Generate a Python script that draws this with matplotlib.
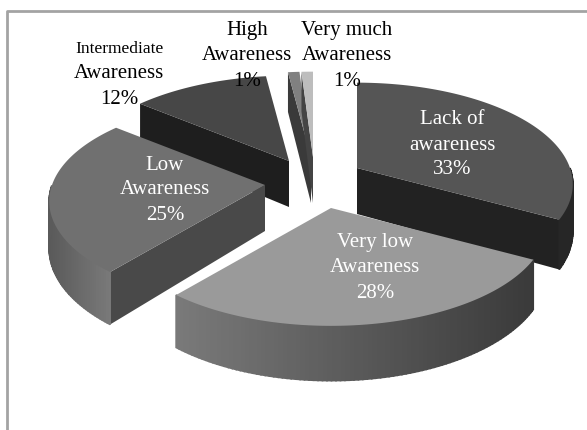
import numpy as np
import matplotlib
matplotlib.use("Agg")
import matplotlib.pyplot as plt
from matplotlib.colors import to_rgb

# awareness levels, clockwise from the top
labels = ["Lack of\nawareness", "Very low\nAwareness", "Low\nAwareness",
          "Intermediate\nAwareness", "High\nAwareness", "Very much\nAwareness"]
percents = [33, 28, 25, 12, 1, 1]

# apex of every exploded slice in pixels
apex_x = [357, 331, 265, 289, 311, 313]
apex_y = [168, 208, 185, 161, 157, 157]
top_cols = ["#555555", "#9a9a9a", "#707070", "#474747", "#808080", "#bdbdbd"]
wall_cols = ["#222222", "#444444", "#494949", "#1e1e1e", "#3a3a3a", "#444444"]
rim_left = ["#1e1e1e", "#7a7a7a", "#5a5a5a", "#333333", "#333333", "#333333"]
rim_right = ["#262626", "#3a3a3a", "#7c7c7c", "#333333", "#333333", "#333333"]

label_x = [452, 375, 165, 119, 247, 347]
label_y = [145, 268, 190, 74, 56, 56]
label_col = ["white", "white", "white", "black", "black", "black"]
draw_order = [3, 4, 5, 0, 2, 1]

fig = plt.figure(figsize=(5.87, 4.30), dpi=100)
ax = fig.add_axes([0, 0, 1, 1])
ax.set_xlim(0, 587)
ax.set_ylim(430, 0)
ax.axis("off")

# frame of the chart area
ax.plot([6.5, 6.5, 590], [432, 10.5, 10.5], color="#a3a3a3", lw=2)

P = 0.16
RX = 213
RY = 99
DEPTH = 46


def project(t):
    # t in degrees clockwise from the top, returns offset from apex
    a = np.radians(t)
    X = np.sin(a)
    Y = np.cos(a)
    s = 1 + P * Y
    return RX * X / s, -RY * Y / s, DEPTH / s


def mix(c1, c2, f):
    c1 = np.array(to_rgb(c1))
    c2 = np.array(to_rgb(c2))
    return c1 + (c2 - c1) * f


edges = np.concatenate([[0], np.cumsum(percents)]) * 3.6

for i in draw_order:
    t0, t1 = edges[i], edges[i + 1]
    cx, cy = apex_x[i], apex_y[i]
    ts = np.linspace(t0, t1, 100)
    rim = np.array([project(t) for t in ts])
    px = cx + rim[:, 0]
    py = cy + rim[:, 1]
    pd = rim[:, 2]

    # cut faces, only those turned towards the viewer
    mx, my = project((t0 + t1) / 2)[:2]
    for k in [0, -1]:
        ex, ey = px[k] - cx, py[k] - cy
        if abs(ex) > 1e-6 and my - ey / ex * mx < 0:
            ax.fill([cx, px[k], px[k], cx], [cy, py[k], py[k] + pd[k], cy + DEPTH],
                    color=wall_cols[i], lw=0, zorder=2)

    # outer wall, small quads for the shading
    xa, xb = px.min(), px.max()
    for j in range(len(ts) - 1):
        if 90 <= (ts[j] + ts[j + 1]) / 2 <= 270:
            f = (px[j] - xa) / max(xb - xa, 1)
            ax.fill([px[j], px[j + 1], px[j + 1], px[j]],
                    [py[j], py[j + 1], py[j + 1] + pd[j + 1], py[j] + pd[j]],
                    color=mix(rim_left[i], rim_right[i], f), lw=1.2, zorder=2)

    ax.fill(np.r_[cx, px], np.r_[cy, py], color=top_cols[i], lw=0, zorder=2)

for i in range(len(labels)):
    lines = (labels[i] + "\n" + str(percents[i]) + "%").split("\n")
    for j in range(len(lines)):
        size = 12.5 if lines[j] == "Intermediate" else 15
        ax.text(label_x[i], label_y[i] + (j - 1) * 25, lines[j], color=label_col[i],
                ha="center", va="center", family="Liberation Serif", fontsize=size, zorder=5)

fig.savefig("out.png", dpi=100)
